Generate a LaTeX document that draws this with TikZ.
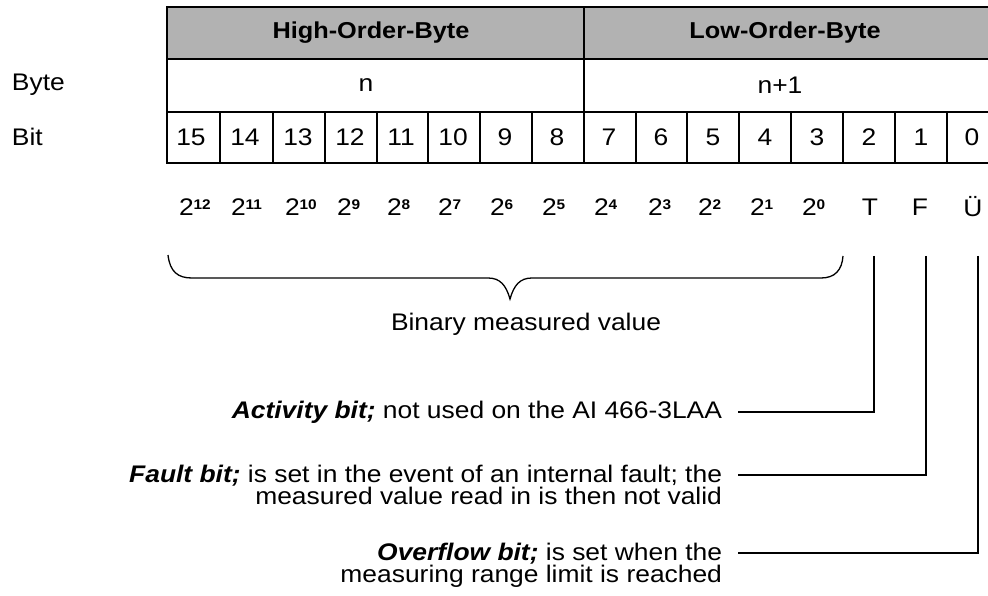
\documentclass[tikz,border=0pt]{standalone}
\usepackage{fontspec}
\setmainfont[FakeStretch=1.1]{Liberation Sans}
\begin{document}
\begin{tikzpicture}[x=1pt,y=-1pt,
  every node/.style={inner sep=0pt, outer sep=0pt, font=\fontsize{24}{24}\selectfont},
  grid/.style={line width=1.4pt, black},
  conn/.style={line width=1.3pt, black},
  hdr/.style={font=\fontsize{23}{23}\selectfont\bfseries},
  pw/.style={anchor=west},
  desc/.style={anchor=east, align=right, font=\fontsize{24}{20}\selectfont}]
\useasboundingbox (0,0) rectangle (988,596);
% header
\fill[black!30] (167,7) rectangle (1000,59);
\draw[grid] (1000,7) -- (167,7) -- (167,163) -- (1000,163);
\draw[grid] (167,59) -- (1000,59);
\draw[grid] (167,112) -- (1000,112);
\draw[grid] (584,7) -- (584,163);
\foreach \x in {220,273,325,377,428,480,532,636,687,739,791,843,895,947}
  \draw[grid] (\x,112) -- (\x,163);
\node[hdr] (hob) at (371,33) {High-Order-Byte};
\node[hdr] (lob) at (785,33) {Low-Order-Byte};
\node (byten) at (366,85) {n};
\node (byten1) at (780,85) {n+1};
\node[anchor=west] (lbyte) at (12,85) {Byte};
\node[anchor=west] (lbit) at (12,137) {Bit};
\foreach \n/\x in {15/191,14/245,13/298,12/350,11/401,10/453,9/505,8/557,7/609,6/661,5/713,4/765,3/817,2/869,1/921,0/972}
  \node (b\n) at (\x,137) {\n};
% powers
\foreach \e/\x in {12/179,11/231,10/285,9/337,8/387,7/438,6/490,5/542,4/594,3/648,2/698,1/750,0/802}
  \node[pw] (p\e) at (\x,207) {2\raisebox{0.25em}{\fontsize{14}{14}\selectfont\bfseries \e}};
\node (pT) at (870,207) {T};
\node (pF) at (920,207) {F};
\node (pU) at (973,207) {Ü};
% brace
\draw[conn] (168,255) .. controls (170,272) and (178,278) .. (192,278) -- (488,278)
  .. controls (500,278) and (506,285) .. (510,299)
  .. controls (514,285) and (520,278) .. (532,278) -- (821,278)
  .. controls (835,278) and (842,270) .. (843,256);
\node (bmv) at (526,324) {Binary measured value};
% descriptions
\node[desc] (dA) at (722,412) {\textbf{\textit{Activity bit;}} not used on the AI 466-3LAA};
\node[desc, anchor=north east] (dF) at (722,465) {\textbf{\textit{Fault bit;}} is set in the event of an internal fault; the\\measured value read in is then not valid};
\node[desc, anchor=north east] (dO) at (722,543) {\textbf{\textit{Overflow bit;}} is set when the\\measuring range limit is reached};
\coordinate (cA) at (738,412);
\coordinate (cF) at (738,475);
\coordinate (cO) at (738,553);
\draw[conn] (874,256) |- (cA);
\draw[conn] (926,256) |- (cF);
\draw[conn] (978,256) |- (cO);
\end{tikzpicture}
\end{document}
